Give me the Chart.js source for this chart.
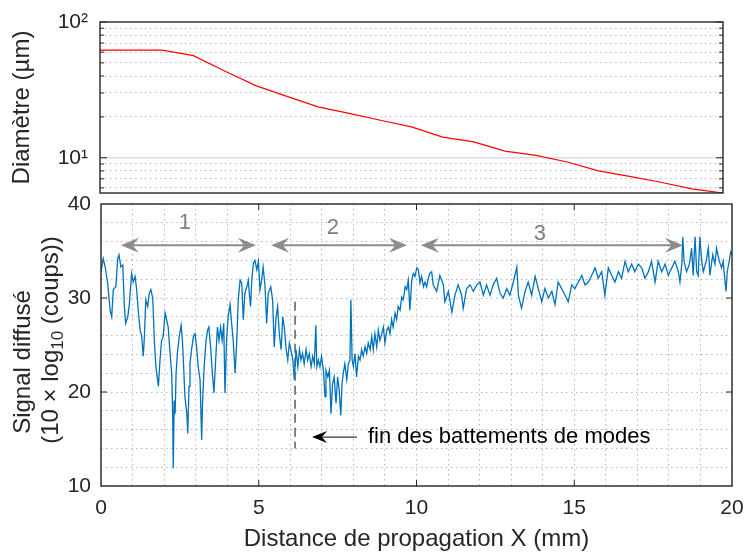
<!DOCTYPE html>
<html>
<head>
<meta charset="utf-8">
<script src="https://cdn.jsdelivr.net/npm/chart.js@4.4.0/dist/chart.umd.min.js"></script>
<style>
  body { margin: 0; background: #fff; }
  #wrap { position: relative; width: 745px; height: 554px; }
  canvas { position: absolute; left: 0; }
  #c1 { top: 0; }
  #c2 { top: 190px; }
</style>
</head>
<body>
<div id="wrap">
  <canvas id="c1" width="745" height="200"></canvas>
  <canvas id="c2" width="745" height="364"></canvas>
</div>
<script>
// diametre (haut)
var diamX = [0,1,2,3,4,5,6,7,8,9,10,11,12,13,14,15,16,17,18,19,20];
var diamY = [62,62,62,56.5,43.5,34,28.3,23.7,21.2,18.9,16.9,14.2,13.1,11.2,10.4,9.3,8.0,7.3,6.6,5.9,5.5];
var topTicks = [6,7,8,9,10,20,30,40,50,60,70,80,90,100];

// signal diffuse (bas)
var sigX = [0.00,0.07,0.13,0.21,0.29,0.34,0.39,0.47,0.53,0.57,0.63,0.69,0.74,0.78,0.85,0.90,0.97,1.02,1.08,1.13,
  1.18,1.24,1.29,1.34,1.37,1.42,1.48,1.53,1.58,1.64,1.69,1.74,1.82,1.87,1.92,1.97,2.03,2.08,2.13,2.19,
  2.24,2.27,2.29,2.32,2.35,2.38,2.43,2.48,2.54,2.58,2.61,2.66,2.72,2.75,2.79,2.82,2.87,2.93,2.98,3.03,
  3.08,3.14,3.19,3.22,3.27,3.33,3.38,3.42,3.48,3.53,3.58,3.64,3.69,3.74,3.79,3.84,3.89,3.93,3.98,4.03,
  4.09,4.14,4.19,4.25,4.30,4.35,4.41,4.46,4.51,4.56,4.62,4.67,4.70,4.74,4.78,4.83,4.88,4.94,4.99,5.04,
  5.09,5.14,5.20,5.25,5.30,5.38,5.44,5.49,5.55,5.60,5.65,5.71,5.76,5.81,5.86,5.92,5.97,6.02,6.08,6.13,
  6.18,6.24,6.29,6.34,6.39,6.44,6.50,6.55,6.60,6.66,6.71,6.76,6.81,6.84,6.89,6.94,6.99,7.05,7.10,7.13,
  7.19,7.24,7.29,7.34,7.39,7.45,7.50,7.55,7.60,7.64,7.68,7.73,7.79,7.84,7.89,7.92,7.96,8.00,8.05,8.10,
  8.16,8.21,8.26,8.31,8.37,8.42,8.47,8.53,8.58,8.63,8.68,8.74,8.79,8.84,8.90,8.95,9.00,9.06,9.11,9.16,
  9.21,9.26,9.32,9.37,9.42,9.48,9.53,9.58,9.64,9.69,9.74,9.79,9.85,9.90,9.95,10.01,10.06,10.11,10.16,10.22,
  10.27,10.32,10.41,10.48,10.53,10.64,10.74,10.85,10.90,11.01,11.12,11.22,11.32,11.43,11.48,11.59,11.70,11.80,11.91,12.01,
  12.12,12.22,12.33,12.43,12.54,12.65,12.75,12.86,12.96,13.07,13.18,13.23,13.33,13.44,13.54,13.65,13.76,13.86,13.97,14.07,
  14.18,14.29,14.39,14.49,14.60,14.71,14.81,14.92,15.02,15.13,15.24,15.34,15.45,15.55,15.66,15.76,15.87,15.97,16.08,16.19,
  16.29,16.40,16.50,16.61,16.71,16.82,16.92,17.03,17.14,17.24,17.35,17.45,17.56,17.66,17.77,17.88,17.98,18.09,18.19,18.30,
  18.35,18.41,18.44,18.48,18.56,18.65,18.72,18.77,18.83,18.88,18.93,18.98,19.04,19.09,19.18,19.25,19.30,19.39,19.46,19.51,
  19.60,19.67,19.72,19.78,19.81,19.85,19.91,19.96,20.00];
var sigY = [32.8,34.2,33.3,31.6,28.7,28.0,30.9,31.2,34.2,34.6,33.3,33.5,29.1,27.3,28.0,29.4,32.6,31.7,32.3,30.9,
  28.7,26.6,25.9,23.8,25.5,29.8,29.1,30.5,30.9,30.0,25.5,22.7,20.6,23.4,25.5,25.9,28.4,27.7,26.9,24.1,
  22.0,18.1,11.9,19.1,17.7,22.0,24.5,25.9,27.1,25.5,23.4,19.5,17.7,15.6,20.6,23.0,24.5,25.9,26.2,24.8,
  22.7,21.3,14.9,19.1,22.7,25.5,26.6,26.9,24.5,22.0,19.9,23.8,26.9,25.5,26.9,25.5,27.3,19.9,25.5,28.0,
  29.3,27.3,25.5,22.0,25.2,29.8,31.9,31.6,27.7,30.5,31.2,31.9,30.5,29.1,31.9,33.7,34.0,33.0,33.9,30.9,
  31.9,33.3,31.2,27.3,30.5,31.2,29.8,24.8,28.0,29.1,26.2,24.5,28.0,26.9,24.8,23.4,25.2,24.5,23.4,21.3,
  24.5,22.7,24.5,23.4,24.1,23.0,24.5,23.4,24.1,22.7,23.8,23.0,27.1,22.7,23.4,22.7,23.8,22.3,19.5,22.3,
  21.6,22.3,17.7,20.9,21.6,18.8,21.6,20.2,17.5,20.9,22.0,23.0,21.3,23.0,23.4,29.8,23.4,22.7,24.1,21.6,
  23.8,23.4,24.5,23.8,24.8,24.1,25.2,24.5,25.9,24.5,26.2,24.8,26.6,25.5,26.2,26.9,25.2,26.6,26.9,26.2,
  27.7,26.9,28.4,27.7,29.1,28.7,30.1,29.8,31.2,30.9,31.9,28.7,31.9,32.6,32.3,33.2,33.0,31.6,32.3,31.2,
  31.7,31.2,32.6,32.8,31.4,30.7,32.4,31.4,29.6,30.7,28.5,30.3,31.4,30.3,28.9,31.0,31.4,30.7,31.4,31.7,
  30.3,31.4,30.3,31.4,32.1,30.5,30.0,31.0,30.3,31.7,33.3,30.3,28.9,30.7,31.7,30.3,32.3,31.0,29.6,31.0,
  30.0,30.7,29.3,31.7,31.0,30.3,29.6,31.4,31.0,31.7,32.4,31.4,31.7,32.4,33.2,32.1,32.8,30.3,33.2,32.4,
  31.7,32.8,32.1,33.9,32.8,33.6,32.8,33.6,33.2,32.1,32.8,33.9,31.7,33.9,32.8,33.6,32.4,33.2,33.9,32.8,
  31.7,33.6,36.5,33.9,32.8,33.6,35.3,32.4,36.5,32.8,32.4,36.5,33.9,32.8,33.9,35.3,32.4,34.6,33.6,35.3,
  33.9,33.2,33.9,31.7,30.7,32.8,33.9,34.9,34.6];

// annotations (unites des donnees)
var zoneArrows = [[0.63, 4.91], [5.39, 9.70], [10.14, 18.45]];
var zoneArrowY = 35.6;
var zoneLabels = ['1', '2', '3'];
var zoneLabelX = [2.66, 7.35, 13.91];
var zoneLabelY = [37.98, 37.45, 36.8];
var finX = 6.15;
var finY = [29.6, 14.0];
var noteArrowX = [8.11, 6.69];
var noteY = 15.2;
var noteTextX = 8.46;
var noteText = 'fin des battements de modes';

var axisColor = '#262626';
var gridColor = 'rgba(0,0,0,0.28)';
var fontFam = '"Liberation Sans", Arial, Helvetica, sans-serif';
Chart.defaults.font.family = fontFam;
Chart.defaults.color = axisColor;

function pts(xs, ys) {
  var out = [];
  for (var i = 0; i < xs.length; i++) out.push({x: xs[i], y: ys[i]});
  return out;
}

function tickLine(ctx, x1, y1, x2, y2) {
  ctx.beginPath();
  ctx.moveTo(x1, y1);
  ctx.lineTo(x2, y2);
  ctx.stroke();
}

function arrowHead(ctx, tx, ty, dir, len, half) {
  ctx.beginPath();
  ctx.moveTo(tx, ty);
  ctx.lineTo(tx - dir * len, ty - half);
  ctx.lineTo(tx - dir * len * 0.65, ty);
  ctx.lineTo(tx - dir * len, ty + half);
  ctx.closePath();
  ctx.fill();
}

// pas de marge auto pour les etiquettes d'extremite
function noPad(s) {
  s.paddingTop = 0; s.paddingBottom = 0; s.paddingLeft = 0; s.paddingRight = 0;
}

// ---- graphe du haut ----
var topPlugin = {
  id: 'topFrame',
  beforeDatasetsDraw: function(chart) {
    var ctx = chart.ctx, a = chart.chartArea, y = chart.scales.y;
    var py = y.getPixelForValue(10);
    ctx.save();
    ctx.strokeStyle = '#dcdcdc';
    ctx.lineWidth = 1.5;
    tickLine(ctx, a.left, py, a.right, py);
    ctx.restore();
  },
  afterDraw: function(chart) {
    var ctx = chart.ctx, a = chart.chartArea, y = chart.scales.y;
    ctx.save();
    ctx.strokeStyle = axisColor;
    ctx.lineWidth = 1;
    topTicks.forEach(function(v) {
      var py = y.getPixelForValue(v);
      var len = (v === 10 || v === 100) ? 7 : 4;
      tickLine(ctx, a.left, py, a.left + len, py);
      tickLine(ctx, a.right, py, a.right - len, py);
    });
    ctx.lineWidth = 1.4;
    ctx.strokeRect(a.left, a.top, a.right - a.left, a.bottom - a.top);
    ctx.restore();
  }
};

new Chart(document.getElementById('c1'), {
  type: 'line',
  data: {
    datasets: [{
      data: pts(diamX, diamY),
      borderColor: '#ff0000',
      borderWidth: 1.2,
      pointRadius: 0,
      fill: false,
      tension: 0
    }]
  },
  options: {
    responsive: false,
    animation: false,
    layout: { padding: { top: 22, right: 22, bottom: 7, left: 0 } },
    plugins: { legend: { display: false }, tooltip: { enabled: false } },
    scales: {
      x: { type: 'linear', min: 0, max: 20, display: false },
      y: {
        type: 'logarithmic', min: 5.5, max: 100,
        afterBuildTicks: function(s) { s.ticks = topTicks.map(function(v) { return {value: v}; }); },
        afterFit: function(s) { s.width = 100; noPad(s); },
        ticks: {
          autoSkip: false, padding: 12, font: { size: 21 },
          callback: function(v) { return v === 100 ? '10²' : (v === 10 ? '10¹' : ''); }
        },
        grid: {
          drawTicks: false,
          color: function(c) { return (c.tick && (c.tick.value === 10 || c.tick.value === 100)) ? 'rgba(0,0,0,0)' : gridColor; }
        },
        border: { display: false, dash: [1.5, 3.5] },
        title: { display: true, text: 'Diamètre (µm)', font: { size: 24 }, padding: { top: 8, bottom: 0 } }
      }
    }
  },
  plugins: [topPlugin]
});

// ---- graphe du bas ----
var bottomPlugin = {
  id: 'bottomDecor',
  afterDatasetsDraw: function(chart) {
    var ctx = chart.ctx, a = chart.chartArea, x = chart.scales.x, y = chart.scales.y;
    ctx.save();
    // fleches grises des zones
    ctx.strokeStyle = '#8c8c8c';
    ctx.fillStyle = '#8c8c8c';
    ctx.lineWidth = 2;
    var ay = y.getPixelForValue(zoneArrowY);
    zoneArrows.forEach(function(z) {
      var x1 = x.getPixelForValue(z[0]), x2 = x.getPixelForValue(z[1]);
      tickLine(ctx, x1 + 10, ay, x2 - 10, ay);
      arrowHead(ctx, x1, ay, -1, 18, 7.5);
      arrowHead(ctx, x2, ay, 1, 18, 7.5);
    });
    ctx.font = '22px ' + fontFam;
    ctx.textAlign = 'center';
    ctx.textBaseline = 'middle';
    ctx.fillStyle = '#7f7f7f';
    zoneLabels.forEach(function(t, i) {
      ctx.fillText(t, x.getPixelForValue(zoneLabelX[i]), y.getPixelForValue(zoneLabelY[i]));
    });
    // fleche noire + texte
    var ny = y.getPixelForValue(noteY);
    var nx1 = x.getPixelForValue(noteArrowX[0]), nx2 = x.getPixelForValue(noteArrowX[1]);
    ctx.strokeStyle = '#000';
    ctx.fillStyle = '#000';
    ctx.lineWidth = 1;
    tickLine(ctx, nx1, ny, nx2 + 8, ny);
    arrowHead(ctx, nx2, ny, -1, 15, 6);
    ctx.textAlign = 'left';
    ctx.fillStyle = '#000';
    ctx.fillText(noteText, x.getPixelForValue(noteTextX), ny);
    ctx.restore();
  },
  afterDraw: function(chart) {
    var ctx = chart.ctx, a = chart.chartArea, x = chart.scales.x, y = chart.scales.y;
    ctx.save();
    ctx.strokeStyle = axisColor;
    ctx.lineWidth = 1;
    [5, 10, 15].forEach(function(v) {
      var px = x.getPixelForValue(v);
      tickLine(ctx, px, a.bottom, px, a.bottom - 6);
      tickLine(ctx, px, a.top, px, a.top + 6);
    });
    [20, 30].forEach(function(v) {
      var py = y.getPixelForValue(v);
      tickLine(ctx, a.left, py, a.left + 6, py);
      tickLine(ctx, a.right, py, a.right - 6, py);
    });
    ctx.lineWidth = 1.4;
    ctx.strokeRect(a.left, a.top, a.right - a.left, a.bottom - a.top);

    // titre de l'axe y sur deux lignes
    ctx.fillStyle = axisColor;
    ctx.textBaseline = 'middle';
    ctx.save();
    ctx.translate(23, 172);
    ctx.rotate(-Math.PI / 2);
    ctx.font = '24px ' + fontFam;
    ctx.textAlign = 'center';
    ctx.fillText('Signal diffusé', 0, 0);
    ctx.restore();

    ctx.save();
    ctx.translate(51, 150);
    ctx.rotate(-Math.PI / 2);
    ctx.textAlign = 'left';
    var p1 = '(10 × log', p2 = '10', p3 = ' (coups))';
    ctx.font = '24px ' + fontFam;
    var w1 = ctx.measureText(p1).width, w3 = ctx.measureText(p3).width;
    ctx.font = '17px ' + fontFam;
    var w2 = ctx.measureText(p2).width;
    var sx = -(w1 + w2 + w3) / 2;
    ctx.font = '24px ' + fontFam;
    ctx.fillText(p1, sx, 0);
    ctx.font = '17px ' + fontFam;
    ctx.fillText(p2, sx + w1, 7);
    ctx.font = '24px ' + fontFam;
    ctx.fillText(p3, sx + w1 + w2, 0);
    ctx.restore();
    ctx.restore();
  }
};

new Chart(document.getElementById('c2'), {
  type: 'line',
  data: {
    datasets: [{
      data: pts(sigX, sigY),
      borderColor: '#0072bd',
      borderWidth: 1.3,
      pointRadius: 0,
      fill: false,
      tension: 0
    }, {
      data: pts([finX, finX], finY),
      borderColor: '#404040',
      borderWidth: 1.3,
      borderDash: [9, 5],
      pointRadius: 0,
      fill: false
    }]
  },
  options: {
    responsive: false,
    animation: false,
    layout: { padding: { top: 14, right: 13, bottom: 0, left: 0 } },
    plugins: { legend: { display: false }, tooltip: { enabled: false } },
    scales: {
      x: {
        type: 'linear', min: 0, max: 20,
        afterFit: function(s) { s.height = 68; noPad(s); },
        ticks: {
          stepSize: 1, autoSkip: false, maxRotation: 0, padding: 10, font: { size: 21 },
          callback: function(v) { return v % 5 === 0 ? String(v) : ''; }
        },
        grid: { drawTicks: false, color: gridColor },
        border: { display: false, dash: [1.5, 3.5] },
        title: { display: true, text: 'Distance de propagation X (mm)', font: { size: 24 }, padding: { top: 0, bottom: 0 } }
      },
      y: {
        type: 'linear', min: 10, max: 40,
        afterFit: function(s) { s.width = 101; noPad(s); },
        ticks: {
          stepSize: 2, autoSkip: false, padding: 10, font: { size: 21 },
          callback: function(v) { return v % 10 === 0 ? String(v) : ''; }
        },
        grid: { drawTicks: false, color: gridColor },
        border: { display: false, dash: [1.5, 3.5] }
      }
    }
  },
  plugins: [bottomPlugin]
});
</script>
</body>
</html>
